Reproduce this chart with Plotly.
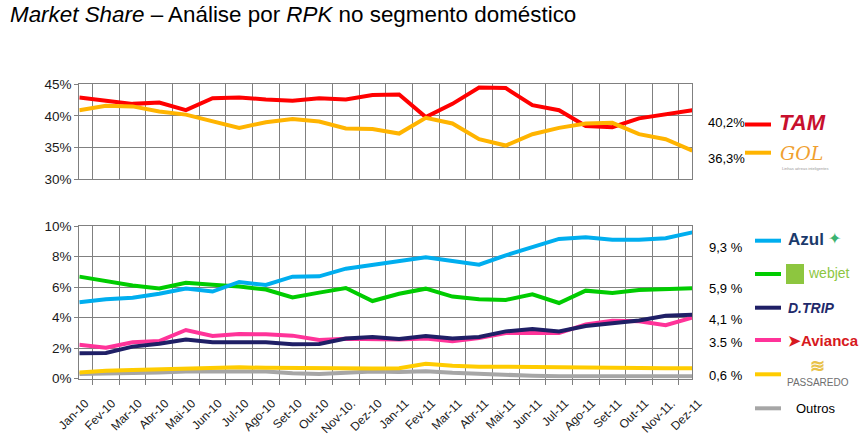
import plotly.graph_objects as go

W, H = 868, 440

months = ["Jan-10", "Fev-10", "Mar-10", "Abr-10", "Mai-10", "Jun-10", "Jul-10", "Ago-10",
          "Set-10", "Out-10", "Nov-10.", "Dez-10", "Jan-11", "Fev-11", "Mar-11", "Abr-11",
          "Mai-11", "Jun-11", "Jul-11", "Ago-11", "Set-11", "Out-11", "Nov-11.", "Dez-11"]

tam = [42.9, 42.4, 41.9, 42.1, 40.9, 42.8, 42.9, 42.6, 42.4, 42.8, 42.6, 43.3,
       43.4, 39.8, 41.9, 44.5, 44.4, 41.7, 40.9, 38.4, 38.2, 39.6, 40.2, 40.9]
gol = [40.9, 41.6, 41.5, 40.7, 40.2, 39.2, 38.1, 39.0, 39.5, 39.1, 38.0, 37.9,
       37.2, 39.7, 38.8, 36.3, 35.3, 37.1, 38.1, 38.8, 38.9, 37.1, 36.3, 34.5]

azul = [5.0, 5.2, 5.3, 5.56, 5.9, 5.7, 6.33, 6.13, 6.68, 6.7, 7.2, 7.44,
        7.73, 7.95, 7.7, 7.46, 8.08, 8.6, 9.15, 9.26, 9.1, 9.1, 9.2, 9.58]
webjet = [6.68, 6.39, 6.1, 5.9, 6.28, 6.15, 6.04, 5.83, 5.32, 5.63, 5.93, 5.08,
          5.56, 5.89, 5.37, 5.19, 5.15, 5.52, 4.95, 5.76, 5.6, 5.8, 5.87, 5.91]
trip = [1.65, 1.67, 2.09, 2.28, 2.55, 2.37, 2.37, 2.37, 2.24, 2.26, 2.62, 2.72,
        2.59, 2.79, 2.63, 2.72, 3.09, 3.25, 3.09, 3.44, 3.62, 3.81, 4.12, 4.18]
avianca = [2.22, 2.02, 2.37, 2.46, 3.18, 2.79, 2.92, 2.9, 2.81, 2.52, 2.6, 2.55,
           2.55, 2.63, 2.44, 2.65, 2.98, 2.98, 2.98, 3.55, 3.79, 3.75, 3.49, 3.99]
passaredo = [0.4, 0.51, 0.55, 0.6, 0.62, 0.64, 0.73, 0.7, 0.68, 0.66, 0.68, 0.66,
             0.68, 0.97, 0.84, 0.77, 0.77, 0.75, 0.75, 0.68, 0.68, 0.7, 0.68, 0.68]
outros = [0.3, 0.32, 0.4, 0.4, 0.46, 0.46, 0.46, 0.46, 0.35, 0.3, 0.37, 0.46,
          0.42, 0.48, 0.37, 0.3, 0.22, 0.18, 0.15, 0.14, 0.14, 0.14, 0.14, 0.14]

top_ticks = [30, 35, 40, 45]
top_ticktext = ["30%", "35%", "40%", "45%"]
bottom_ticks = [0, 2, 4, 6, 8, 10]
bottom_ticktext = ["0%", "2%", "4%", "6%", "8%", "10%"]

top_labels = ["40,2%", "36,3%"]
bottom_labels = ["9,3 %", "5,9 %", "4,1 %", "3.5 %", "0,6 %"]

C_TAM = "#FF0000"
C_GOL = "#FFB400"
C_AZUL = "#00AEEF"
C_WEB = "#00CC00"
C_TRIP = "#1F1F66"
C_AVI = "#FF3399"
C_PAS = "#FFCC00"
C_OUT = "#A6A6A6"

FONT = "Liberation Sans, Arial, sans-serif"
GRID = "#808080"


def px(x):
    return x / W


def py(y):
    return 1 - y / H


fig = go.Figure()

# top chart
for vals, col in [(tam, C_TAM), (gol, C_GOL)]:
    fig.add_trace(go.Scatter(x=months, y=vals, mode="lines", xaxis="x2", yaxis="y2",
                             line=dict(color=col, width=4), showlegend=False, hoverinfo="skip"))

# bottom chart (draw order)
for vals, col in [(outros, C_OUT), (passaredo, C_PAS), (avianca, C_AVI), (trip, C_TRIP),
                  (webjet, C_WEB), (azul, C_AZUL)]:
    fig.add_trace(go.Scatter(x=months, y=vals, mode="lines", xaxis="x", yaxis="y",
                             line=dict(color=col, width=4), showlegend=False, hoverinfo="skip"))

xdom = [px(79.3), px(692.3)]
axis_common = dict(showgrid=True, gridcolor=GRID, gridwidth=1.3, showline=True,
                   linecolor=GRID, linewidth=1.3, mirror=True, zeroline=False)

fig.update_layout(
    width=W, height=H, margin=dict(l=0, r=0, t=0, b=0),
    paper_bgcolor="white", plot_bgcolor="white",
    font=dict(family=FONT, color="#1a1a1a"),
    xaxis=dict(domain=xdom, type="category", categoryorder="array", categoryarray=months,
               tickson="boundaries", ticks="outside", ticklen=5, tickcolor=GRID,
               tickangle=-45, tickfont=dict(size=12), anchor="y", automargin=False,
               ticklabelstandoff=12, ticklabelshift=6,
               **axis_common),
    yaxis=dict(domain=[py(378.5), py(226)], range=[0, 10], tickmode="array",
               tickvals=bottom_ticks, ticktext=bottom_ticktext, ticks="outside", ticklen=4,
               tickcolor=GRID, tickfont=dict(size=13.5), anchor="x", automargin=False,
               **axis_common),
    xaxis2=dict(domain=xdom, type="category", categoryorder="array", categoryarray=months,
                tickson="boundaries", ticks="", showticklabels=False, anchor="y2",
                automargin=False, **axis_common),
    yaxis2=dict(domain=[py(179), py(84.3)], range=[30, 45], tickmode="array",
                tickvals=top_ticks, ticktext=top_ticktext, ticks="outside", ticklen=4,
                tickcolor=GRID, tickfont=dict(size=13.5), anchor="x2", automargin=False,
                **axis_common),
)

ann = []
shapes = []

# title
ann.append(dict(x=px(8), y=py(15), xref="paper", yref="paper", xanchor="left", yanchor="middle",
                text="<i>Market Share</i> – Análise por <i>RPK</i> no segmento doméstico",
                showarrow=False, font=dict(size=22.4, color="#000000", family=FONT)))

# top legend
top_items = [(top_labels[0], 122.5, 124.5, C_TAM), (top_labels[1], 158.5, 152.7, C_GOL)]
for lab, ty, ly, col in top_items:
    ann.append(dict(x=px(706), y=py(ty), xref="paper", yref="paper", xanchor="left",
                    yanchor="middle", text=lab, showarrow=False,
                    font=dict(size=13, color="#000000")))
    shapes.append(dict(type="line", xref="paper", yref="paper", x0=px(745), x1=px(771),
                       y0=py(ly), y1=py(ly), line=dict(color=col, width=4)))

ann.append(dict(x=px(777), y=py(122), xref="paper", yref="paper", xanchor="left", yanchor="middle",
                text="<b><i>TAM</i></b>", showarrow=False,
                font=dict(size=22, color="#C8102E", family="Liberation Sans, Arial")))
ann.append(dict(x=px(778), y=py(153), xref="paper", yref="paper", xanchor="left", yanchor="middle",
                text="<i>GOL</i>", showarrow=False,
                font=dict(size=19, color="#F0A030", family="DejaVu Serif, serif")))
ann.append(dict(x=px(780), y=py(169), xref="paper", yref="paper", xanchor="left", yanchor="middle",
                text="Linhas aéreas inteligentes", showarrow=False,
                font=dict(size=4, color="#999999")))

# bottom legend
bot_items = [
    (bottom_labels[0], 247.3, 240.7, C_AZUL),
    (bottom_labels[1], 288.5, 274.0, C_WEB),
    (bottom_labels[2], 319.5, 307.7, C_TRIP),
    (bottom_labels[3], 342.3, 340.0, C_AVI),
    (bottom_labels[4], 375.3, 374.3, C_PAS),
]
for lab, ty, ly, col in bot_items:
    ann.append(dict(x=px(707), y=py(ty), xref="paper", yref="paper", xanchor="left",
                    yanchor="middle", text=lab, showarrow=False,
                    font=dict(size=13, color="#000000")))
    shapes.append(dict(type="line", xref="paper", yref="paper", x0=px(755), x1=px(781),
                       y0=py(ly), y1=py(ly), line=dict(color=col, width=4)))
shapes.append(dict(type="line", xref="paper", yref="paper", x0=px(755), x1=px(781),
                   y0=py(408.3), y1=py(408.3), line=dict(color=C_OUT, width=4)))
ann.append(dict(x=px(794), y=py(408.3), xref="paper", yref="paper", xanchor="left",
                yanchor="middle", text="Outros", showarrow=False,
                font=dict(size=13, color="#000000")))

# logo-like text marks
ann.append(dict(x=px(786), y=py(240), xref="paper", yref="paper", xanchor="left", yanchor="middle",
                text="<b>Azul</b>", showarrow=False, font=dict(size=17, color="#1B3A6B")))
ann.append(dict(x=px(826), y=py(238), xref="paper", yref="paper", xanchor="left", yanchor="middle",
                text="✦", showarrow=False, font=dict(size=16, color="#3CB371")))
shapes.append(dict(type="rect", xref="paper", yref="paper", x0=px(786), x1=px(804),
                   y0=py(284), y1=py(264), fillcolor="#8DC63F", line=dict(width=0),
                   layer="above"))
ann.append(dict(x=px(806), y=py(273), xref="paper", yref="paper", xanchor="left", yanchor="middle",
                text="webjet", showarrow=False, font=dict(size=14, color="#8DC63F")))
ann.append(dict(x=px(786), y=py(308), xref="paper", yref="paper", xanchor="left", yanchor="middle",
                text="<b><i>D.TRIP</i></b>", showarrow=False, font=dict(size=14, color="#1F2A6B")))
ann.append(dict(x=px(786), y=py(340), xref="paper", yref="paper", xanchor="left", yanchor="middle",
                text="<b>➤Avianca</b>", showarrow=False, font=dict(size=15, color="#D71920")))
ann.append(dict(x=px(808), y=py(366), xref="paper", yref="paper", xanchor="left", yanchor="middle",
                text="<b>≋</b>", showarrow=False, font=dict(size=18, color="#E8C24A")))
ann.append(dict(x=px(785), y=py(382), xref="paper", yref="paper", xanchor="left", yanchor="middle",
                text="PASSAREDO", showarrow=False, font=dict(size=10, color="#6E6E6E")))

fig.update_layout(annotations=ann, shapes=shapes)

fig.write_html("out.html", config={"displayModeBar": False},
               post_script="document.body.style.margin='0';")
